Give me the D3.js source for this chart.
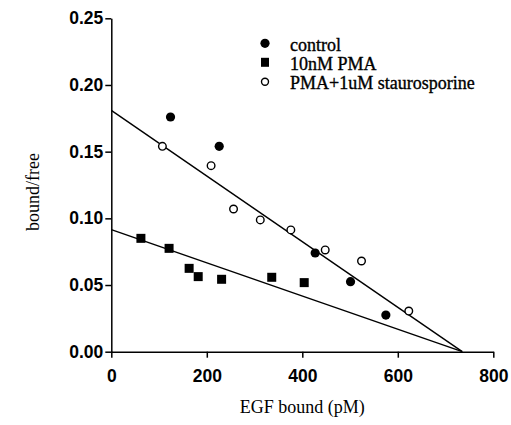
<!DOCTYPE html>
<html>
<head>
<meta charset="utf-8">
<script src="https://cdn.jsdelivr.net/npm/d3@7"></script>
<style>
  body { margin: 0; background: #fff; }
  svg { display: block; font-family: "Liberation Serif", "Times New Roman", serif; }
  .axis path, .axis line { stroke: #000; stroke-width: 1.5; }
  .axis text { font-size: 17.5px; font-weight: bold; fill: #000; }
</style>
</head>
<body>
<svg></svg>
<script>
// values
const controlX = [124, 226, 427, 501, 575];
const controlY = [0.176, 0.154, 0.074, 0.0525, 0.0275];
const pmaX = [62, 121, 163, 182, 231, 336, 404];
const pmaY = [0.085, 0.0775, 0.0625, 0.0563, 0.0543, 0.0558, 0.0518];
const stauroX = [107, 209, 256, 312, 376, 448, 524, 623];
const stauroY = [0.154, 0.1395, 0.107, 0.0988, 0.0913, 0.0763, 0.068, 0.0305];
const fitUpperX = [0, 735];
const fitUpperY = [0.181, 0];
const fitLowerX = [0, 735];
const fitLowerY = [0.0915, 0];
const xTicks = [0, 200, 400, 600, 800];
const yTicks = [0, 0.05, 0.10, 0.15, 0.20, 0.25];
const legendLabels = ["control", "10nM PMA", "PMA+1uM staurosporine"];

const width = 511, height = 425;
const plotLeft = 111.3, plotRight = 493.3, plotTop = 18.3, plotBottom = 351.7;

const svg = d3.select("svg").attr("width", width).attr("height", height);

const x = d3.scaleLinear().domain([0, 800]).range([plotLeft, plotRight]);
const y = d3.scaleLinear().domain([0, 0.25]).range([plotBottom, plotTop]);

// axes
svg.append("g")
    .attr("class", "axis")
    .attr("transform", `translate(0, ${plotBottom})`)
    .call(d3.axisBottom(x).tickValues(xTicks).tickSize(6).tickSizeOuter(0).tickPadding(12).tickFormat(d3.format("d")));

svg.append("g")
    .attr("class", "axis")
    .attr("transform", `translate(${plotLeft}, 0)`)
    .call(d3.axisLeft(y).tickValues(yTicks).tickSize(6).tickSizeOuter(0).tickPadding(2).tickFormat(d3.format(".2f")));

// fitted lines
const line = d3.line().x(d => x(d[0])).y(d => y(d[1]));
[[fitUpperX, fitUpperY], [fitLowerX, fitLowerY]].forEach(([xs, ys]) => {
    svg.append("path")
        .datum(xs.map((v, i) => [v, ys[i]]))
        .attr("d", line)
        .attr("fill", "none")
        .attr("stroke", "#000")
        .attr("stroke-width", 1.4);
});

// points
svg.selectAll(".ctrl")
    .data(controlX.map((v, i) => [v, controlY[i]]))
    .enter().append("circle")
    .attr("cx", d => x(d[0])).attr("cy", d => y(d[1]))
    .attr("r", 4.6).attr("fill", "#000");

svg.selectAll(".pma")
    .data(pmaX.map((v, i) => [v, pmaY[i]]))
    .enter().append("rect")
    .attr("x", d => x(d[0]) - 4.5).attr("y", d => y(d[1]) - 4.5)
    .attr("width", 9).attr("height", 9).attr("fill", "#000");

svg.selectAll(".stau")
    .data(stauroX.map((v, i) => [v, stauroY[i]]))
    .enter().append("circle")
    .attr("cx", d => x(d[0])).attr("cy", d => y(d[1]))
    .attr("r", 3.8).attr("fill", "#fff").attr("stroke", "#000").attr("stroke-width", 1.4);

// legend
const legend = svg.append("g").attr("transform", "translate(265, 43.3)");
legend.append("circle").attr("cx", 0).attr("cy", 0).attr("r", 4.6).attr("fill", "#000");
legend.append("rect").attr("x", -4).attr("y", 19 - 4.5).attr("width", 8).attr("height", 9).attr("fill", "#000");
legend.append("circle").attr("cx", 0).attr("cy", 38.5).attr("r", 3.5).attr("fill", "#fff").attr("stroke", "#000").attr("stroke-width", 1.4);
legend.selectAll("text")
    .data(legendLabels)
    .enter().append("text")
    .attr("x", 25)
    .attr("y", (d, i) => i * 19.4 + 7.4)
    .attr("font-size", 18)
    .attr("stroke", "#000")
    .attr("stroke-width", 0.35)
    .text(d => d);

// axis titles
svg.append("text")
    .attr("x", (plotLeft + plotRight) / 2)
    .attr("y", 413)
    .attr("text-anchor", "middle")
    .attr("font-size", 18)
    .text("EGF bound (pM)");

svg.append("text")
    .attr("transform", "translate(39, 192) rotate(-90)")
    .attr("text-anchor", "middle")
    .attr("font-size", 18)
    .text("bound/free");
</script>
</body>
</html>
